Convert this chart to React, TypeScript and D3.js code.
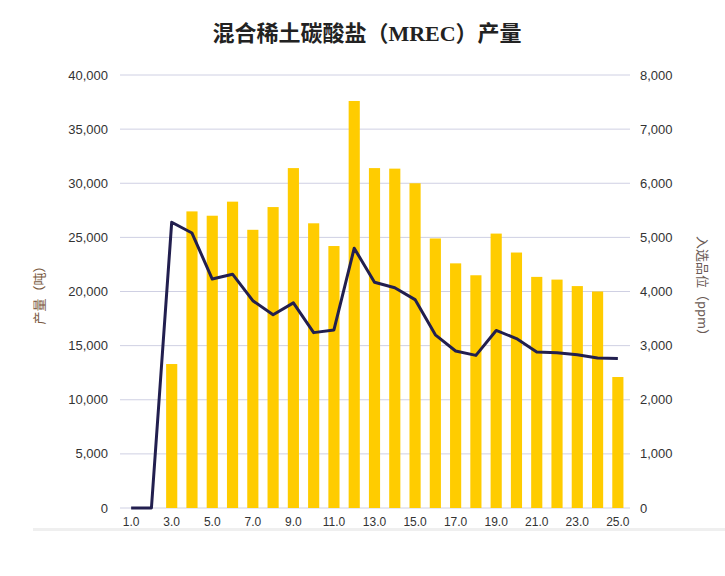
import React from 'react';
import * as d3 from 'd3';

// category axis 1.0 .. 25.0
const categories: number[] = d3.range(1, 26);

// 产量（吨） bars, left axis
const output: number[] = [
  0, 0, 13300, 27400, 27000, 28300, 25700, 27800, 31400, 26300, 24200, 37600, 31400,
  31350, 30000, 24900, 22600, 21500, 25350, 23600, 21350, 21100, 20500, 20000, 12100,
];

// 入选品位（ppm） line, right axis
const grade: number[] = [
  0, 0, 5280, 5080, 4230, 4320, 3830, 3570, 3790, 3240, 3290, 4800, 4170,
  4070, 3850, 3200, 2900, 2820, 3280, 3130, 2880, 2870, 2830, 2770, 2760,
];

const leftTicks: number[] = [0, 5000, 10000, 15000, 20000, 25000, 30000, 35000, 40000];
const rightTicks: number[] = [0, 1000, 2000, 3000, 4000, 5000, 6000, 7000, 8000];

const W = 725, H = 576;
const margin = { left: 120, right: 97, top: 75, bottom: 68 };
const sans = "'Liberation Sans', Arial, 'Noto Sans CJK SC', sans-serif";

export default function App() {
  const x = d3.scaleBand<number>()
    .domain(categories)
    .range([margin.left + 1, W - margin.right])
    .paddingInner(0.45)
    .paddingOuter(0.225);
  const yL = d3.scaleLinear().domain([0, 40000]).range([H - margin.bottom, margin.top]);
  const yR = d3.scaleLinear().domain([0, 8000]).range([H - margin.bottom, margin.top]);
  const fmt = d3.format(',');
  const cx = (c: number) => (x(c) as number) + x.bandwidth() / 2;

  const line = d3.line<number>()
    .x((d, i) => cx(categories[i]))
    .y(d => yR(d));

  const x0 = margin.left, x1 = W - margin.right + 2;

  return (
    <svg width={W} height={H} style={{ position: 'absolute', left: 0, top: 0, background: '#fff' }}>
      <text x={367} y={41} textAnchor="middle" fontSize={22} fontWeight="bold"
        fontFamily="'Liberation Serif', 'Noto Sans CJK SC', serif" fill="#222">
        混合稀土碳酸盐（MREC）产量
      </text>

      {leftTicks.map(t => (
        <g key={'g' + t}>
          <line x1={x0} x2={x1} y1={yL(t)} y2={yL(t)} stroke="#cfd0e3" strokeWidth={1} />
          <text x={108} y={yL(t)} dy="0.35em" textAnchor="end" fontSize={13} fontFamily={sans} fill="#333">
            {fmt(t)}
          </text>
        </g>
      ))}
      {rightTicks.map(t => (
        <text key={'r' + t} x={640} y={yR(t)} dy="0.35em" textAnchor="start" fontSize={13} fontFamily={sans} fill="#333">
          {fmt(t)}
        </text>
      ))}

      {categories.map((c, i) => (
        output[i] > 0 ? (
          <rect key={'b' + c} x={x(c)} y={yL(output[i])} width={x.bandwidth()}
            height={yL(0) - yL(output[i])} fill="#ffcc00" />
        ) : null
      ))}

      <path d={line(grade) || ''} fill="none" stroke="#221f4f" strokeWidth={3} strokeLinejoin="round" />

      {categories.filter((c, i) => i % 2 === 0).map(c => (
        <text key={'x' + c} x={cx(c)} y={526} textAnchor="middle" fontSize={12} fontFamily={sans} fill="#333">
          {c.toFixed(1)}
        </text>
      ))}

      <text transform={`translate(44, 292) rotate(-90)`} textAnchor="middle" fontSize={13}
        fontFamily="'Noto Sans CJK SC', sans-serif" fill="#7a5a40">
        产量（吨）
      </text>
      <text transform={`translate(698, 289) rotate(90)`} textAnchor="middle" fontSize={13}
        fontFamily="'Noto Sans CJK SC', sans-serif" fill="#6a5a55">
        入选品位（ppm）
      </text>

      <rect x={33} y={528} width={W - 33} height={3} fill="#efefef" />
    </svg>
  );
}
